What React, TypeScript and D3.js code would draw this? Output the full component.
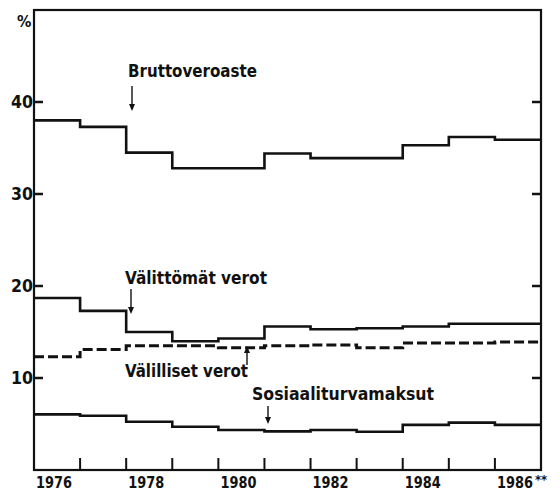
import * as d3 from "d3";

const years = [1976, 1977, 1978, 1979, 1980, 1981, 1982, 1983, 1984, 1985, 1986];
const yearLabels = ["1976", "1978", "1980", "1982", "1984", "1986"];
const yTicks = [10, 20, 30, 40];

const brutto = [38.0, 37.3, 34.5, 32.8, 32.8, 34.4, 33.9, 33.9, 35.3, 36.2, 35.9];
const valittomat = [18.7, 17.3, 15.0, 14.0, 14.3, 15.6, 15.3, 15.4, 15.6, 15.9, 15.9];
const valilliset = [12.3, 13.1, 13.5, 13.5, 13.3, 13.5, 13.6, 13.3, 13.8, 13.8, 13.9];
const sosiaali = [6.05, 5.9, 5.25, 4.7, 4.35, 4.2, 4.35, 4.15, 4.9, 5.15, 4.9];

const W = 560;
const H = 493;
const left = 34;
const right = 541;
const top = 10;
const bottom = 470;

const font = "'DejaVu Sans Condensed', 'DejaVu Sans', sans-serif";

export default function App() {
  const x = d3.scaleLinear().domain([1976, 1987]).range([left, right]);
  const y = d3.scaleLinear().domain([0, 50]).range([bottom, top]);

  const step = d3
    .line<[number, number]>()
    .x((d) => x(d[0]))
    .y((d) => y(d[1]))
    .curve(d3.curveStepAfter);

  const pts = (vals: number[]): [number, number][] => {
    const p = years.map((yr, i) => [yr, vals[i]] as [number, number]);
    p.push([1987, vals[vals.length - 1]]);
    return p;
  };

  const txt = {
    fontFamily: font,
    fontWeight: 700,
    fontStretch: "condensed" as const,
    fill: "#111",
  };

  // small arrow from (ax, y1) to (ax, y2), head at y2
  const arrow = (ax: number, y1: number, y2: number) => {
    const dir = y2 > y1 ? 1 : -1;
    return (
      <g>
        <line x1={ax} x2={ax} y1={y1} y2={y2 - dir * 4} stroke="#111" strokeWidth={1.4} />
        <path
          d={`M${ax - 3},${y2 - dir * 7} L${ax + 3},${y2 - dir * 7} L${ax},${y2} Z`}
          fill="#111"
        />
      </g>
    );
  };

  return (
    <svg
      width={W}
      height={H}
      style={{ position: "absolute", left: 0, top: 0, background: "#fff" }}
    >
      <rect x={0} y={0} width={W} height={H} fill="#fff" />

      {/* frame */}
      <rect
        x={left}
        y={top}
        width={right - left}
        height={bottom - top}
        fill="none"
        stroke="#111"
        strokeWidth={2.2}
      />

      {/* y ticks on both sides, pointing inward */}
      {yTicks.map((t) => (
        <g key={t}>
          <line x1={left} x2={left + 9} y1={y(t)} y2={y(t)} stroke="#111" strokeWidth={2.5} />
          <line x1={right - 9} x2={right} y1={y(t)} y2={y(t)} stroke="#111" strokeWidth={2.5} />
          <text
            x={left - 1}
            y={y(t) + 6}
            textAnchor="end"
            fontSize={17}
            textLength={22}
            lengthAdjust="spacingAndGlyphs"
            {...txt}
          >
            {t}
          </text>
        </g>
      ))}
      <text x={17} y={27} fontSize={16} {...txt}>
        %
      </text>

      {/* x ticks at year boundaries */}
      {years.slice(1).map((yr) => (
        <line
          key={yr}
          x1={x(yr)}
          x2={x(yr)}
          y1={bottom}
          y2={bottom - 12}
          stroke="#111"
          strokeWidth={2}
        />
      ))}
      {yearLabels.map((lab) => {
        const yr = +lab;
        const cx = x(yr + 0.5) - 3;
        return (
          <g key={lab}>
            <text
              x={cx}
              y={488}
              textAnchor="middle"
              fontSize={15}
              textLength={36}
              lengthAdjust="spacingAndGlyphs"
              {...txt}
            >
              {lab}
            </text>
            {yr === 1986 && (
              <text x={cx + 20} y={484} fontSize={13} {...txt}>
                **
              </text>
            )}
          </g>
        );
      })}

      {/* series */}
      <path d={step(pts(brutto)) ?? ""} fill="none" stroke="#111" strokeWidth={2.6} />
      <path d={step(pts(valittomat)) ?? ""} fill="none" stroke="#111" strokeWidth={2.6} />
      <path
        d={step(pts(valilliset)) ?? ""}
        fill="none"
        stroke="#111"
        strokeWidth={3}
        strokeDasharray="10,4"
      />
      <path d={step(pts(sosiaali)) ?? ""} fill="none" stroke="#111" strokeWidth={2.6} />

      {/* labels */}
      <text x={128} y={77} fontSize={17} textLength={129} lengthAdjust="spacingAndGlyphs" {...txt}>
        Bruttoveroaste
      </text>
      {arrow(132, 86, 111)}

      <text x={125} y={284} fontSize={17} textLength={142} lengthAdjust="spacingAndGlyphs" {...txt}>
        Välittömät verot
      </text>
      {arrow(131, 289, 314)}

      <text x={125} y={377} fontSize={17} textLength={123} lengthAdjust="spacingAndGlyphs" {...txt}>
        Välilliset verot
      </text>
      {arrow(247, 365, 346)}

      <text x={252} y={400} fontSize={17} textLength={182} lengthAdjust="spacingAndGlyphs" {...txt}>
        Sosiaaliturvamaksut
      </text>
      {arrow(268, 406, 424)}
    </svg>
  );
}
